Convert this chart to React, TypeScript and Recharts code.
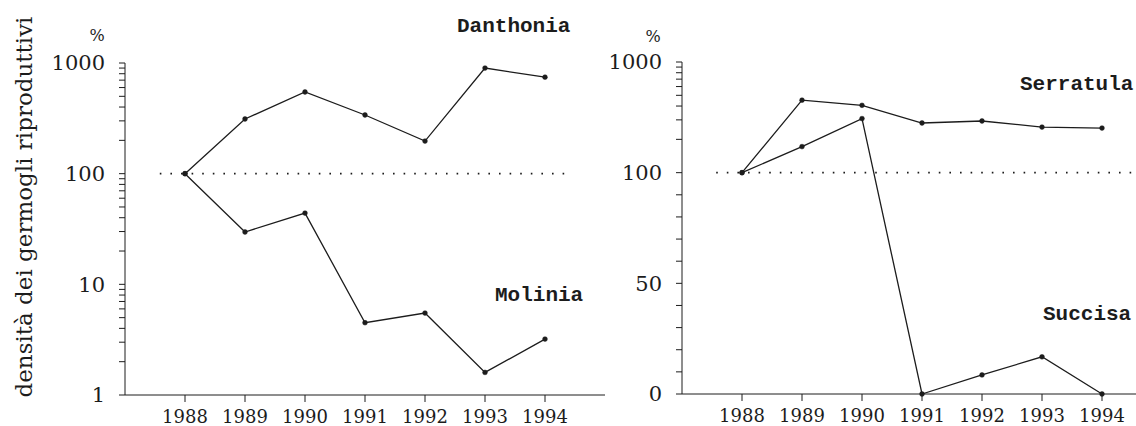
import React from "react";
import { LineChart, Line, XAxis, YAxis, ReferenceLine } from "recharts";

// years on the x axis
const years = [1988, 1989, 1990, 1991, 1992, 1993, 1994];

// left panel (log scale, % of 1988)
const danthonia = [100, 312, 547, 339, 197, 900, 745];
const molinia = [100, 29.7, 44, 4.5, 5.5, 1.6, 3.2];

// right panel (0-100 linear, 100-1000 log)
const serratula = [100, 452, 406, 281, 293, 258, 253];
const succisa = [100, 172, 308, 0, 8.6, 16.8, 0];

const leftTickLabels = [1, 10, 100, 1000];
const rightTickLabels = ["0", "50", "100", "1000"];

const INK = "#1c1c1c";
const SERIF = "'DejaVu Serif', 'Liberation Serif', serif";
const tickFont = { fontFamily: SERIF, fill: INK, style: { fontFamily: SERIF } };

// broken axis: linear up to 100, one log decade above that
const brk = (v: number) => (v <= 100 ? v : 100 + 50 * Math.log10(v / 100));

const leftData = years.map((y, i) => ({ year: y, danthonia: danthonia[i], molinia: molinia[i] }));
const rightData = years.map((y, i) => ({ year: y, serratula: brk(serratula[i]), succisa: brk(succisa[i]) }));

const leftTicks: number[] = [];
[1, 10, 100].forEach((d) => {
  for (let k = 1; k < 10; k++) leftTicks.push(d * k);
});
leftTicks.push(1000);

const rightTicks: number[] = [];
for (let k = 0; k <= 10; k++) rightTicks.push(k * 10);
for (let k = 2; k <= 10; k++) rightTicks.push(brk(k * 100));

const fmtLeft = (v: number) => (leftTickLabels.some((t) => Math.abs(t - v) < 1e-6) ? String(v) : "");
const fmtRight = (v: number) => {
  const pos = [0, 50, 100, 150];
  const i = pos.findIndex((p) => Math.abs(p - v) < 1e-6);
  return i >= 0 ? rightTickLabels[i] : "";
};

const lineProps = {
  type: "linear" as const,
  stroke: INK,
  strokeWidth: 1.3,
  dot: { r: 2.4, fill: INK, stroke: INK, strokeWidth: 0.5 },
  isAnimationActive: false,
};

export default function App() {
  return (
    <div style={{ position: "absolute", left: 0, top: 0, width: 1136, height: 426, background: "#fff" }}>
      <div style={{ position: "absolute", left: 0, top: 0 }}>
        <LineChart width={615} height={426} data={leftData} margin={{ top: 63, right: 10, left: 0, bottom: 0 }}>
          <XAxis
            dataKey="year"
            type="number"
            domain={[1987, 1995]}
            ticks={years}
            height={31}
            tickSize={7}
            tickMargin={8}
            stroke={INK}
            tick={{ ...tickFont, fontSize: 18 }}
          />
          <YAxis
            scale="log"
            type="number"
            domain={[1, 1000]}
            ticks={leftTicks}
            interval={0}
            width={125}
            tickSize={6}
            tickMargin={14}
            tickFormatter={fmtLeft}
            stroke={INK}
            tick={{ ...tickFont, fontSize: 21 }}
            allowDataOverflow
          />
          <ReferenceLine
            segment={[{ x: 1987.58, y: 100 }, { x: 1994.42, y: 100 }]}
            stroke={INK}
            strokeWidth={1.6}
            strokeDasharray="1.6 9"
          />
          <Line dataKey="danthonia" {...lineProps} />
          <Line dataKey="molinia" {...lineProps} />
        </LineChart>
      </div>
      <div style={{ position: "absolute", left: 600, top: 0 }}>
        <LineChart width={536} height={426} data={rightData} margin={{ top: 62, right: 0, left: 0, bottom: 0 }}>
          <XAxis
            dataKey="year"
            type="number"
            domain={[1987, 1987 + 454 / 60]}
            ticks={years}
            height={32}
            tickSize={7}
            tickMargin={8}
            stroke={INK}
            tick={{ ...tickFont, fontSize: 18 }}
            allowDataOverflow
          />
          <YAxis
            type="number"
            domain={[0, 150]}
            ticks={rightTicks}
            interval={0}
            width={82}
            tickSize={6}
            tickMargin={14}
            tickFormatter={fmtRight}
            stroke={INK}
            tick={{ ...tickFont, fontSize: 21 }}
          />
          <ReferenceLine
            segment={[{ x: 1987.57, y: 100 }, { x: 1994.56, y: 100 }]}
            stroke={INK}
            strokeWidth={1.6}
            strokeDasharray="1.6 9"
          />
          <Line dataKey="serratula" {...lineProps} />
          <Line dataKey="succisa" {...lineProps} />
        </LineChart>
      </div>
      <svg width={1136} height={426} style={{ position: "absolute", left: 0, top: 0, pointerEvents: "none" }}>
        <text
          x={32}
          y={207}
          transform="rotate(-90 32 207)"
          textAnchor="middle"
          fontSize={23}
          fill={INK}
          style={{ fontFamily: SERIF }}
        >
          densità dei germogli riproduttivi
        </text>
        <text x={97} y={41} textAnchor="middle" fontSize={16} fill={INK} style={{ fontFamily: SERIF }}>%</text>
        <text x={653} y={42} textAnchor="middle" fontSize={16} fill={INK} style={{ fontFamily: SERIF }}>%</text>
        <g fontSize={21} fontWeight="bold" fill={INK} style={{ fontFamily: "'Liberation Mono', monospace" }}>
          <text x={457} y={32}>Danthonia</text>
          <text x={495} y={301}>Molinia</text>
          <text x={1020} y={90}>Serratula</text>
          <text x={1043} y={320}>Succisa</text>
        </g>
      </svg>
    </div>
  );
}
